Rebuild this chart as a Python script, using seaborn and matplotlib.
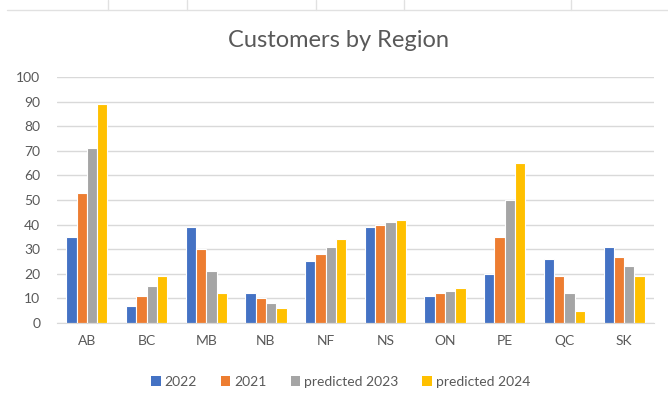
import matplotlib
matplotlib.use("Agg")
import matplotlib.pyplot as plt
import pandas as pd
import seaborn as sns
from matplotlib.lines import Line2D
from matplotlib.patches import Patch

regions = ["AB", "BC", "MB", "NB", "NF", "NS", "ON", "PE", "QC", "SK"]
series_names = ["2022", "2021", "predicted 2023", "predicted 2024"]
values_2022 = [35, 7, 39, 12, 25, 39, 11, 20, 26, 31]
values_2021 = [53, 11, 30, 10, 28, 40, 12, 35, 19, 27]
values_pred_2023 = [71, 15, 21, 8, 31, 41, 13, 50, 12, 23]
values_pred_2024 = [89, 19, 12, 6, 34, 42, 14, 65, 5, 19]
colors = ["#4472C4", "#ED7D31", "#A5A5A5", "#FFC000"]

rows = []
for name, vals in zip(series_names,
                      [values_2022, values_2021, values_pred_2023, values_pred_2024]):
    for reg, v in zip(regions, vals):
        rows.append({"Region": reg, "Series": name, "Customers": v})
df = pd.DataFrame(rows)

sns.set_style("white")
plt.rcParams["font.family"] = ["Lato", "DejaVu Sans"]
text_color = "#595959"
grid_color = "#d9d9d9"

fig = plt.figure(figsize=(6.68, 4.04), dpi=100)
ax = fig.add_axes([0.0853, 0.201, 0.8937, 0.6077])

sns.barplot(data=df, x="Region", y="Customers", hue="Series",
            hue_order=series_names, palette=colors, saturation=1, width=0.69,
            edgecolor="white", linewidth=0.8, ax=ax, legend=False)

ax.set_ylim(0, 100)
ax.set_xlim(-0.5, len(regions) - 0.5)
ax.set_yticks(range(0, 101, 10))
ax.yaxis.grid(True, color=grid_color, linewidth=1)
ax.set_axisbelow(True)
for side in ["top", "right", "left"]:
    ax.spines[side].set_visible(False)
ax.spines["bottom"].set_color(grid_color)
ax.tick_params(axis="both", length=0, colors=text_color, labelsize=10)
ax.tick_params(axis="x", pad=9)
ax.tick_params(axis="y", pad=12)
ax.set_xlabel("")
ax.set_ylabel("")

fig.text(0.507, 0.9, "Customers by Region", ha="center", va="center",
         fontsize=17, color=text_color)

handles = [Patch(facecolor=c, edgecolor="none") for c in colors]
fig.legend(handles, series_names, loc="center", bbox_to_anchor=(0.51, 0.055),
           ncol=4, frameon=False, fontsize=10, handlelength=0.7,
           handleheight=0.7, handletextpad=0.3, columnspacing=1.7,
           labelcolor=text_color)

# faint spreadsheet cell lines above the chart
cell_color = "#e1e1e1"
fig.add_artist(Line2D([0.01, 1.0], [0.975, 0.975], transform=fig.transFigure,
                      color=cell_color, linewidth=1))
for x in [108, 187, 316, 404, 571]:
    fig.add_artist(Line2D([x / 668, x / 668], [0.975, 1.0],
                          transform=fig.transFigure, color=cell_color, linewidth=1))

fig.savefig("out.png", dpi=100, facecolor="white")
